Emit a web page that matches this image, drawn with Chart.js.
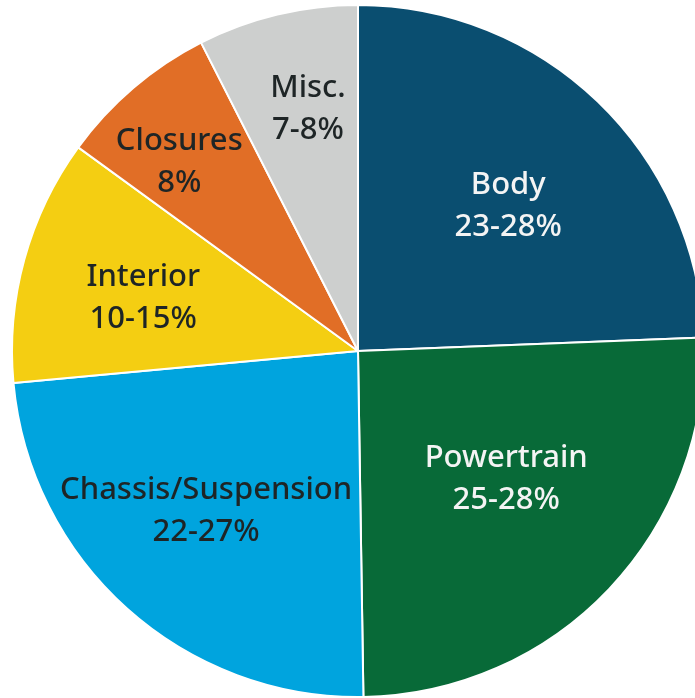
<!DOCTYPE html>
<html>
<head>
<meta charset="utf-8">
<script src="https://cdn.jsdelivr.net/npm/chart.js@4"></script>
<style>
  html, body { margin: 0; padding: 0; background: #ffffff; overflow: hidden; width: 695px; height: 698px; }
  #wrap { position: absolute; left: 0; top: 0; }
</style>
</head>
<body>
<div id="wrap"><canvas id="c" width="716" height="702"></canvas></div>
<script>
// Data (slice shares, percent of the circle)
const categories = ["Body", "Powertrain", "Chassis/Suspension", "Interior", "Closures", "Misc."];
const shares = [24.4, 25.4, 23.8, 11.5, 7.5, 7.5];
const rangeLabels = ["23-28%", "25-28%", "22-27%", "10-15%", "8%", "7-8%"];

// Styles
const sliceColors = ["#0a4e70", "#086a38", "#00a4de", "#f4ce12", "#e16e26", "#cdcfce"];
const textColors = ["#f4f4f4", "#f4f4f4", "#1e2526", "#1e2526", "#1e2526", "#1e2526"];
const labelRadiusFactor = [0.604, 0.566, 0.639, 0.639, 0.751, 0.714];
const labelAngleShiftDeg = [2.1, -2.6, 1.5, -1.6, -3.0, 1.8];

const labelPlugin = {
  id: 'sliceLabels',
  afterDatasetsDraw(chart) {
    const ctx = chart.ctx;
    const meta = chart.getDatasetMeta(0);
    ctx.save();
    ctx.font = '500 31px "Noto Sans", "Open Sans", sans-serif';
    ctx.textAlign = 'center';
    ctx.textBaseline = 'middle';
    meta.data.forEach((arc, i) => {
      const p = arc.getProps(['x', 'y', 'startAngle', 'endAngle', 'outerRadius'], true);
      const mid = (p.startAngle + p.endAngle) / 2 + labelAngleShiftDeg[i] * Math.PI / 180;
      const r = p.outerRadius * labelRadiusFactor[i];
      const cx = p.x + Math.cos(mid) * r;
      const cy = p.y + Math.sin(mid) * r;
      ctx.fillStyle = textColors[i];
      ctx.fillText(categories[i], cx, cy - 21);
      ctx.fillText(rangeLabels[i], cx, cy + 21);
    });
    ctx.restore();
  }
};

new Chart(document.getElementById('c'), {
  type: 'pie',
  data: {
    labels: categories,
    datasets: [{
      data: shares,
      backgroundColor: sliceColors,
      borderColor: '#ffffff',
      borderWidth: 2,
      radius: 346
    }]
  },
  options: {
    responsive: false,
    animation: false,
    layout: { padding: 0 },
    plugins: {
      legend: { display: false },
      tooltip: { enabled: false }
    }
  },
  plugins: [labelPlugin]
});
</script>
</body>
</html>
